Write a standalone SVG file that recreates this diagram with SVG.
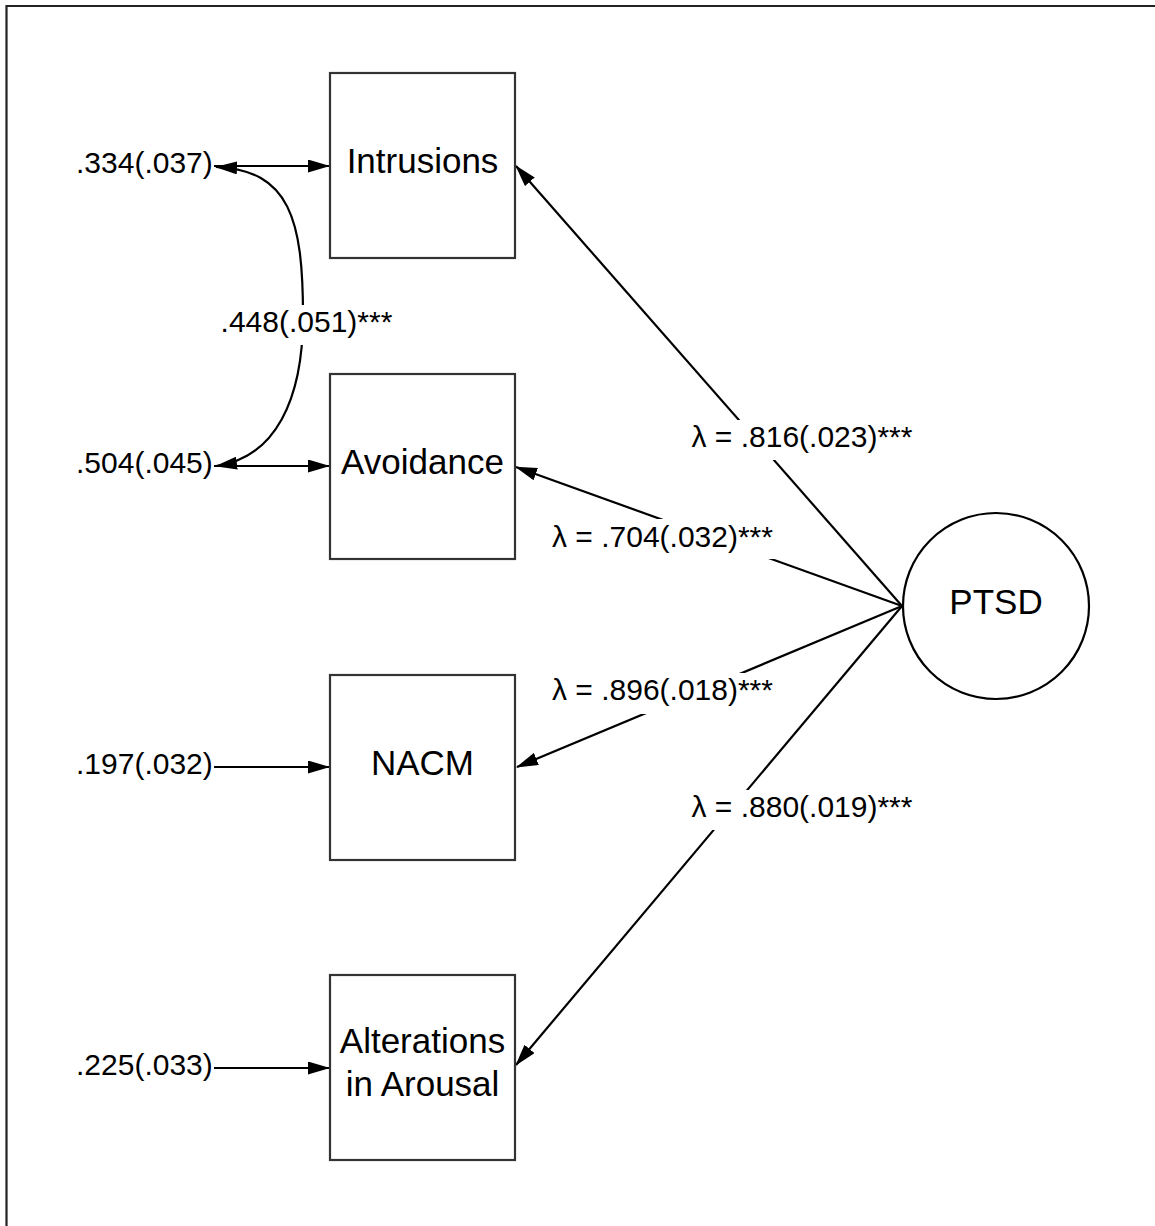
<svg xmlns="http://www.w3.org/2000/svg" width="1155" height="1226" viewBox="0 0 1155 1226">
<style>
text{font-family:"Liberation Sans",Arial,sans-serif;fill:#000}
.node{font-size:35px}
.lbl{font-size:30px}
.box{fill:#fff;stroke:#333;stroke-width:2.2}
.edge{fill:none;stroke:#000;stroke-width:2.2}
.bg{fill:#fff;stroke:none}
</style>
<defs>
<marker id="ah" markerUnits="userSpaceOnUse" markerWidth="22" markerHeight="13" refX="21" refY="6.5" orient="auto-start-reverse" viewBox="0 0 22 13">
<path d="M0,0 L22,6.5 L0,13 z" fill="#000"/>
</marker>
</defs>
<rect width="1155" height="1226" fill="#fff"/>
<path d="M6.5,1226 V6 H1155" fill="none" stroke="#222" stroke-width="2.2"/>

<g id="connectors">
<line class="edge" x1="214" y1="166" x2="329" y2="166" marker-end="url(#ah)"/>
<line class="edge" x1="214" y1="466" x2="329" y2="466" marker-end="url(#ah)"/>
<line class="edge" x1="214" y1="767" x2="329" y2="767" marker-end="url(#ah)"/>
<line class="edge" x1="214" y1="1068" x2="329" y2="1068" marker-end="url(#ah)"/>
<path class="edge" d="M216,167 C290,170 303,220 303,316 C303,400 275,458 216,466" marker-start="url(#ah)" marker-end="url(#ah)"/>
<line class="edge" x1="902" y1="606" x2="516" y2="166" marker-end="url(#ah)"/>
<line class="edge" x1="902" y1="606" x2="516" y2="467" marker-end="url(#ah)"/>
<line class="edge" x1="902" y1="606" x2="517" y2="767" marker-end="url(#ah)"/>
<line class="edge" x1="902" y1="606" x2="516" y2="1065" marker-end="url(#ah)"/>
<rect class="bg" x="218" y="305" width="178" height="40"/>
<text class="lbl" x="306.5" y="331.5" text-anchor="middle">.448(.051)***</text>
<rect class="bg" x="688" y="420" width="232" height="40"/>
<text class="lbl" x="691.5" y="446.5">λ = .816(.023)***</text>
<rect class="bg" x="548" y="519" width="232" height="40"/>
<text class="lbl" x="552" y="546.5">λ = .704(.032)***</text>
<rect class="bg" x="548" y="673" width="232" height="41"/>
<text class="lbl" x="552" y="700">λ = .896(.018)***</text>
<rect class="bg" x="688" y="790" width="232" height="40"/>
<text class="lbl" x="691.5" y="816.5">λ = .880(.019)***</text>
</g>

<g id="e-intrusions"><text class="lbl" x="76" y="172.5">.334(.037)</text></g>
<g id="e-avoidance"><text class="lbl" x="76" y="473">.504(.045)</text></g>
<g id="e-nacm"><text class="lbl" x="76" y="773.5">.197(.032)</text></g>
<g id="e-arousal"><text class="lbl" x="76" y="1074.5">.225(.033)</text></g>

<g id="intrusions">
<rect class="box" x="330" y="73" width="185" height="185"/>
<text class="node" x="422.5" y="173" text-anchor="middle">Intrusions</text>
</g>
<g id="avoidance">
<rect class="box" x="330" y="374" width="185" height="185"/>
<text class="node" x="422.5" y="473.5" text-anchor="middle">Avoidance</text>
</g>
<g id="nacm">
<rect class="box" x="330" y="675" width="185" height="185"/>
<text class="node" x="422.5" y="774.5" text-anchor="middle">NACM</text>
</g>
<g id="arousal">
<rect class="box" x="330" y="975" width="185" height="185"/>
<text class="node" x="422.5" y="1053" text-anchor="middle">Alterations</text>
<text class="node" x="422.5" y="1096" text-anchor="middle">in Arousal</text>
</g>
<g id="ptsd">
<circle cx="996" cy="606" r="93" fill="#fff" stroke="#000" stroke-width="2.2"/>
<text class="node" x="996" y="614" text-anchor="middle">PTSD</text>
</g>
</svg>
